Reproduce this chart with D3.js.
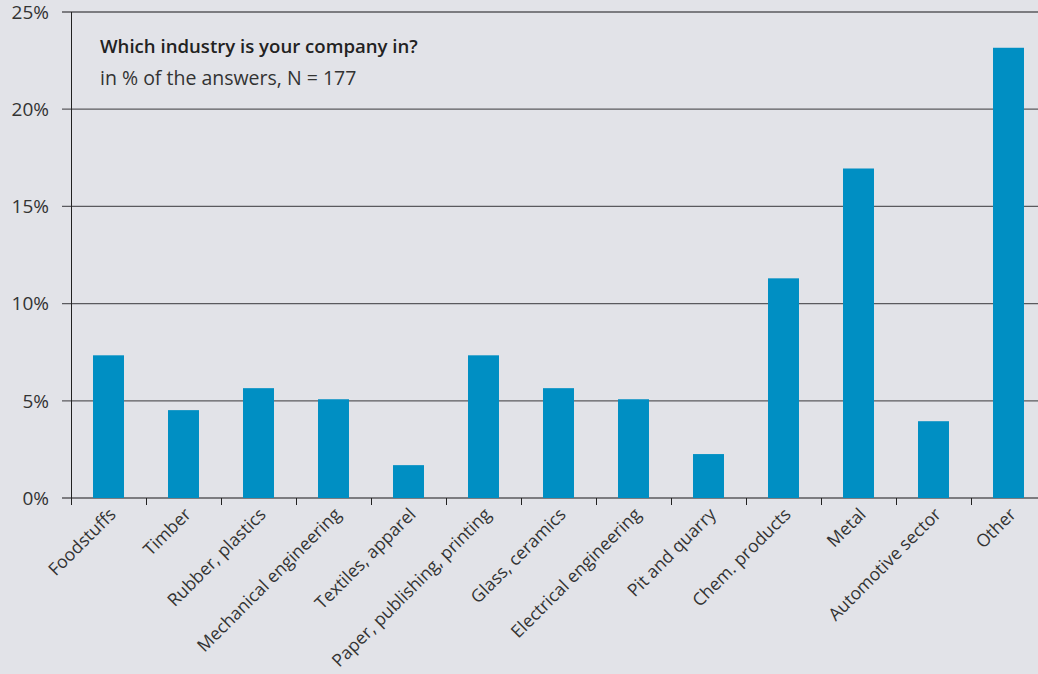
<!DOCTYPE html>
<html>
<head>
<meta charset="utf-8">
<script src="https://cdn.jsdelivr.net/npm/d3@7"></script>
<style>
  body { margin: 0; background: #e2e3e8; }
  svg { display: block; font-family: "Open Sans", Roboto, sans-serif; }
</style>
</head>
<body>
<div id="holder"></div>
<script>
// data (N = 177)
const categories = [
    "Foodstuffs", "Timber", "Rubber, plastics", "Mechanical engineering",
    "Textiles, apparel", "Paper, publishing, printing", "Glass, ceramics",
    "Electrical engineering", "Pit and quarry", "Chem. products", "Metal",
    "Automotive sector", "Other"
];
const shares = [7.34, 4.52, 5.65, 5.08, 1.69, 7.34, 5.65, 5.08, 2.26, 11.3, 16.95, 3.95, 23.16];
const yTicks = [0, 5, 10, 15, 20, 25];

const w = 1038;
const h = 674;

let svg = d3.select("#holder")
    .append("svg")
    .attr("width", w)
    .attr("height", h);

svg.append("rect")
    .attr("width", w)
    .attr("height", h)
    .attr("fill", "#e2e3e8");

let xScale = d3.scaleBand()
    .domain(categories)
    .range([71, 71 + 75 * categories.length])
    .paddingInner(0.587)
    .paddingOuter(0.2935);

let yScale = d3.scaleLinear()
    .domain([0, 25])
    .range([498, 12]);

// gridlines
svg.append("g")
    .selectAll("line")
    .data(yTicks)
    .enter()
    .append("line")
    .attr("x1", 62)
    .attr("x2", w)
    .attr("y1", d => yScale(d))
    .attr("y2", d => yScale(d))
    .attr("stroke", "#5a5a5e")
    .attr("stroke-width", 1.3);

// y labels
svg.append("g")
    .selectAll("text")
    .data(yTicks)
    .enter()
    .append("text")
    .attr("x", 49)
    .attr("y", d => yScale(d))
    .attr("dy", "0.36em")
    .attr("text-anchor", "end")
    .attr("font-size", 19)
    .attr("fill", "#333")
    .text(d => d + "%");

// bars
svg.append("g")
    .selectAll("rect")
    .data(shares)
    .enter()
    .append("rect")
    .attr("x", (d, i) => xScale(categories[i]))
    .attr("width", xScale.bandwidth())
    .attr("y", d => yScale(d))
    .attr("height", d => yScale(0) - yScale(d))
    .attr("fill", "#008fc3");

// x axis ticks at band boundaries
const gap = (xScale.step() - xScale.bandwidth()) / 2;
svg.append("g")
    .selectAll("line")
    .data(categories)
    .enter()
    .append("line")
    .attr("x1", d => Math.round(xScale(d) - gap) + 0.5)
    .attr("x2", d => Math.round(xScale(d) - gap) + 0.5)
    .attr("y1", 498)
    .attr("y2", 505)
    .attr("stroke", "#222")
    .attr("stroke-width", 1);

// y axis line
svg.append("line")
    .attr("x1", 71.5)
    .attr("x2", 71.5)
    .attr("y1", 12)
    .attr("y2", 505)
    .attr("stroke", "#222")
    .attr("stroke-width", 1);

// x labels
svg.append("g")
    .selectAll("text")
    .data(categories)
    .enter()
    .append("text")
    .attr("transform", d => "translate(" + (xScale(d) + xScale.bandwidth() / 2 + 4) + ",511) rotate(-45)")
    .attr("text-anchor", "end")
    .attr("dy", "0.36em")
    .attr("font-size", 17.6)
    .attr("fill", "#333")
    .text(d => d);

// title
svg.append("text")
    .attr("x", 100)
    .attr("y", 53)
    .attr("font-size", 18.6)
    .attr("font-weight", 600)
    .attr("fill", "#222")
    .text("Which industry is your company in?");

svg.append("text")
    .attr("x", 100)
    .attr("y", 85)
    .attr("font-size", 19.5)
    .attr("fill", "#333")
    .text("in % of the answers, N = 177");
</script>
</body>
</html>
